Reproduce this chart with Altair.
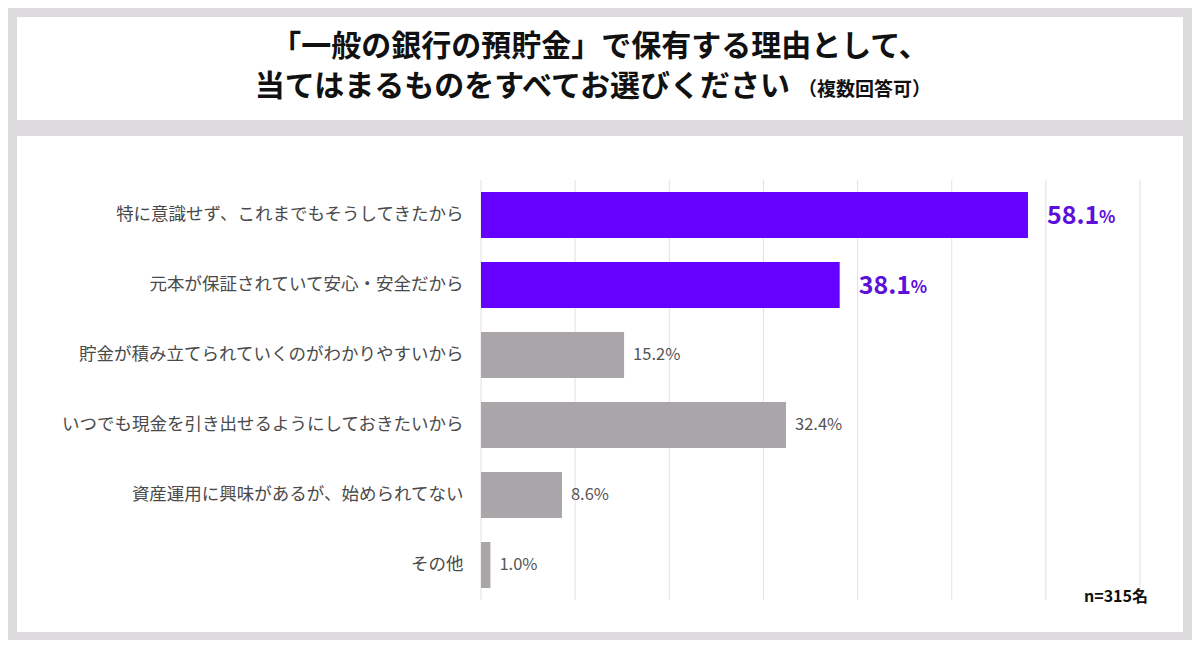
import pandas as pd
import altair as alt

# データ
labels = [
    "特に意識せず、これまでもそうしてきたから",
    "元本が保証されていて安心・安全だから",
    "貯金が積み立てられていくのがわかりやすいから",
    "いつでも現金を引き出せるようにしておきたいから",
    "資産運用に興味があるが、始められてない",
    "その他",
]
values = [58.1, 38.1, 15.2, 32.4, 8.6, 1.0]
highlight = [True, True, False, False, False, False]
grid_ticks = [0, 10, 20, 30, 40, 50, 60, 70]

title_line1 = "「一般の銀行の預貯金」で保有する理由として、"
title_line2 = "当てはまるものをすべてお選びください"
title_note = "（複数回答可）"
sample_note = "n=315名"

FONT = "Noto Sans CJK JP"
PURPLE = "#6600ff"
PURPLE_TEXT = "#5c10dc"
GRAY = "#a9a5a9"
BG = "#dcdadd"

df = pd.DataFrame({"label": labels, "value": values, "hl": highlight})
df["num"] = [f"{v:.1f}" for v in values]
df["pct"] = df["num"] + "%"
df["color"] = [PURPLE if h else GRAY for h in highlight]

one = pd.DataFrame({"a": [0]})

x_enc = alt.X("value:Q", scale=alt.Scale(domain=[0, 70]), axis=None)
y_enc = alt.Y(
    "label:N",
    sort=labels,
    scale=alt.Scale(paddingInner=0.343, paddingOuter=0.171),
    axis=alt.Axis(
        title=None, ticks=False, domain=False, labelPadding=18,
        labelFontSize=17.5, labelColor="#4a4a4a", labelFont=FONT, labelLimit=600,
        zindex=1,
    ),
)

# 白い枠（タイトル・グラフ）
title_box = alt.Chart(one).mark_rect(color="white").encode(
    x=alt.value(-464), x2=alt.value(702), y=alt.value(-163), y2=alt.value(-60)
)
panel_box = alt.Chart(one).mark_rect(color="white").encode(
    x=alt.value(-464), x2=alt.value(702), y=alt.value(-44), y2=alt.value(452)
)

grid = alt.Chart(pd.DataFrame({"t": grid_ticks})).mark_rule(
    color="#e2e0e3", strokeWidth=1
).encode(x=alt.X("t:Q", scale=alt.Scale(domain=[0, 70]), axis=None))

bars = alt.Chart(df).mark_bar().encode(
    x=x_enc, y=y_enc, color=alt.Color("color:N", scale=None)
)

gray_text = alt.Chart(df).transform_filter("!datum.hl").mark_text(
    align="left", baseline="middle", dx=9, font=FONT, fontSize=16.5, color="#555555"
).encode(x=x_enc, y=y_enc, text="pct:N")

big_num = alt.Chart(df).transform_filter("datum.hl").mark_text(
    align="left", baseline="middle", dx=19, dy=1, font=FONT, fontSize=25,
    fontWeight="bold", color=PURPLE_TEXT
).encode(x=x_enc, y=y_enc, text="num:N")

big_pct = alt.Chart(df).transform_filter("datum.hl").mark_text(
    align="left", baseline="middle", dx=71, dy=3, font=FONT, fontSize=17,
    fontWeight="bold", color=PURPLE_TEXT
).encode(x=x_enc, y=y_enc, text="pct_sign:N").transform_calculate(pct_sign="'%'")

t1 = alt.Chart(one).mark_text(
    align="center", baseline="middle", font=FONT, fontSize=30,
    fontWeight="bold", color="#111111"
).encode(x=alt.value(119), y=alt.value(-133), text=alt.value(title_line1))

t2 = alt.Chart(one).mark_text(
    align="right", baseline="middle", font=FONT, fontSize=30,
    fontWeight="bold", color="#111111"
).encode(x=alt.value(309), y=alt.value(-93), text=alt.value(title_line2))

t3 = alt.Chart(one).mark_text(
    align="left", baseline="middle", font=FONT, fontSize=19,
    fontWeight="bold", color="#111111"
).encode(x=alt.value(317), y=alt.value(-90), text=alt.value(title_note))

n_text = alt.Chart(one).mark_text(
    align="right", baseline="middle", font=FONT, fontSize=16,
    fontWeight="bold", color="#111111"
).encode(x=alt.value(667), y=alt.value(417), text=alt.value(sample_note))

chart = alt.layer(
    title_box, panel_box, grid, bars, gray_text, big_num, big_pct, t1, t2, t3, n_text
).properties(
    width=659, height=420,
    autosize=alt.AutoSizeParams(type="none"),
    padding={"left": 473, "top": 172, "right": 52, "bottom": 40},
    background=BG,
).configure_view(stroke=None)

chart.save("out.html", embed_options={"renderer": "svg", "actions": False})
